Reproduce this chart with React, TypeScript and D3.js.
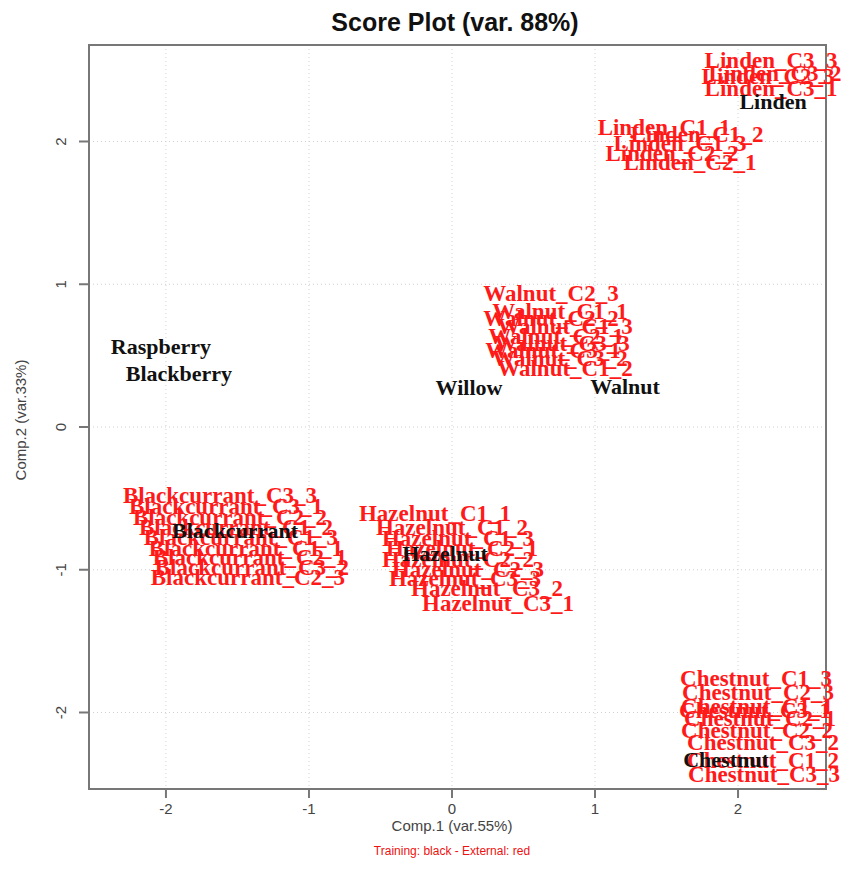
import React from "react";
import * as d3 from "d3";

const trainingNames = ["Raspberry", "Blackberry", "Willow", "Walnut", "Linden", "Blackcurrant", "Hazelnut", "Chestnut"];
const trainingX = [-2.035, -1.909, 0.119, 1.21, 2.245, -1.517, -0.049, 1.916];
const trainingY = [0.567, 0.378, 0.28, 0.287, 2.284, -0.722, -0.883, -2.326];

const externalNames = [
  "Linden_C3_3", "Linden_C3_2", "Linden_C2_3", "Linden_C3_1", "Linden_C1_1", "Linden_C1_2", "Linden_C1_3", "Linden_C2_2", "Linden_C2_1",
  "Walnut_C2_3", "Walnut_C1_1", "Walnut_C2_2", "Walnut_C1_3", "Walnut_C2_1", "Walnut_C3_3", "Walnut_C3_1", "Walnut_C3_2", "Walnut_C1_2",
  "Blackcurrant_C3_3", "Blackcurrant_C3_1", "Blackcurrant_C2_2", "Blackcurrant_C1_2", "Blackcurrant_C1_3", "Blackcurrant_C1_1", "Blackcurrant_C2_1", "Blackcurrant_C3_2", "Blackcurrant_C2_3",
  "Hazelnut_C1_1", "Hazelnut_C1_2", "Hazelnut_C1_3", "Hazelnut_C2_1", "Hazelnut_C2_2", "Hazelnut_C2_3", "Hazelnut_C3_3", "Hazelnut_C3_2", "Hazelnut_C3_1",
  "Chestnut_C1_3", "Chestnut_C2_3", "Chestnut_C1_1", "Chestnut_C3_1", "Chestnut_C2_1", "Chestnut_C2_2", "Chestnut_C3_2", "Chestnut_C1_2", "Chestnut_C3_3",
];
const externalX = [
  2.231, 2.259, 2.21, 2.231, 1.483, 1.713, 1.594, 1.538, 1.664,
  0.692, 0.755, 0.692, 0.79, 0.727, 0.769, 0.706, 0.755, 0.79,
  -1.622, -1.58, -1.552, -1.51, -1.476, -1.441, -1.413, -1.399, -1.427,
  -0.119, 0.0, 0.042, 0.07, 0.042, 0.112, 0.091, 0.245, 0.322,
  2.126, 2.14, 2.133, 2.119, 2.154, 2.133, 2.175, 2.175, 2.182,
];
const externalY = [
  2.571, 2.48, 2.459, 2.375, 2.102, 2.053, 1.99, 1.919, 1.856,
  0.939, 0.813, 0.764, 0.708, 0.637, 0.588, 0.539, 0.483, 0.413,
  -0.476, -0.553, -0.63, -0.701, -0.771, -0.848, -0.911, -0.981, -1.051,
  -0.602, -0.701, -0.778, -0.848, -0.925, -0.995, -1.058, -1.128, -1.233,
  -1.758, -1.856, -1.954, -1.982, -2.039, -2.123, -2.207, -2.333, -2.431,
];

const xTicks = [-2, -1, 0, 1, 2];
const yTicks = [-2, -1, 0, 1, 2];
const xDomain = [-2.538, 2.615];
const yDomain = [-2.536, 2.676];

const titleText = "Score Plot (var. 88%)";
const xLabel = "Comp.1 (var.55%)";
const yLabel = "Comp.2 (var.33%)";
const subLabel = "Training: black - External: red";

export default function App() {
  const W = 855, H = 881;
  const left = 89, right = 826, top = 45, bottom = 789;
  const x = d3.scaleLinear().domain(xDomain).range([left, right]);
  const y = d3.scaleLinear().domain(yDomain).range([bottom, top]);
  const labelFont = "'Liberation Serif', 'Times New Roman', serif";
  const sans = "'Liberation Sans', Arial, sans-serif";

  return (
    <svg width={W} height={H} style={{ position: "absolute", left: 0, top: 0, background: "#fff" }}>
      <rect x={0} y={0} width={W} height={H} fill="#fff" />
      {xTicks.map((t) => (
        <line key={"gx" + t} x1={x(t)} x2={x(t)} y1={top} y2={bottom} stroke="#d0d0d0" strokeWidth={1} strokeDasharray="1 3" />
      ))}
      {yTicks.map((t) => (
        <line key={"gy" + t} x1={left} x2={right} y1={y(t)} y2={y(t)} stroke="#d0d0d0" strokeWidth={1} strokeDasharray="1 3" />
      ))}
      <rect x={left} y={top} width={right - left} height={bottom - top} fill="none" stroke="#777" strokeWidth={2} />
      {xTicks.map((t) => (
        <g key={"tx" + t}>
          <line x1={x(t)} x2={x(t)} y1={bottom} y2={bottom + 9} stroke="#777" strokeWidth={2} />
          <text x={x(t)} y={bottom + 25} textAnchor="middle" fontFamily={sans} fontSize={15} fill="#444">
            {t < 0 ? "-" + Math.abs(t) : String(t)}
          </text>
        </g>
      ))}
      {yTicks.map((t) => (
        <g key={"ty" + t}>
          <line x1={left} x2={left - 10} y1={y(t)} y2={y(t)} stroke="#777" strokeWidth={2} />
          <text
            transform={`translate(${left - 28},${y(t)}) rotate(-90)`}
            textAnchor="middle"
            dy="0.35em"
            fontFamily={sans}
            fontSize={15}
            fill="#444"
          >
            {t < 0 ? "-" + Math.abs(t) : String(t)}
          </text>
        </g>
      ))}
      <text x={455} y={31} textAnchor="middle" fontFamily={sans} fontWeight="bold" fontSize={25} fill="#111">
        {titleText}
      </text>
      <text x={452} y={831} textAnchor="middle" fontFamily={sans} fontSize={15} fill="#444">
        {xLabel}
      </text>
      <text x={452} y={855} textAnchor="middle" fontFamily={sans} fontSize={12} fill="#ee1111">
        {subLabel}
      </text>
      <text transform={`translate(26,${420}) rotate(-90)`} textAnchor="middle" fontFamily={sans} fontSize={15} fill="#444">
        {yLabel}
      </text>
      {externalNames.map((n, i) => (
        <text
          key={"e" + i}
          x={x(externalX[i])}
          y={y(externalY[i])}
          dy="0.35em"
          textAnchor="middle"
          fontFamily={labelFont}
          fontWeight="bold"
          fontSize={23}
          fill="#ff1a1a"
        >
          {n}
        </text>
      ))}
      {trainingNames.map((n, i) => (
        <text
          key={"t" + i}
          x={x(trainingX[i])}
          y={y(trainingY[i])}
          dy="0.35em"
          textAnchor="middle"
          fontFamily={labelFont}
          fontWeight="bold"
          fontSize={22}
          fill="#111"
        >
          {n}
        </text>
      ))}
    </svg>
  );
}
